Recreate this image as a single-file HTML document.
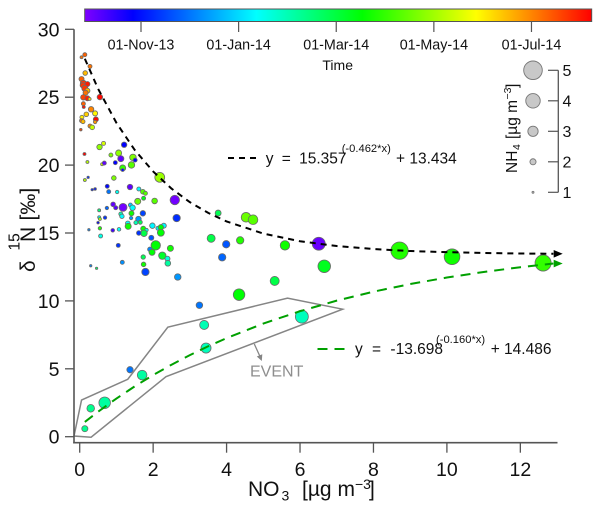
<!DOCTYPE html>
<html lang="en">
<head>
<meta charset="utf-8">
<title>δ15N versus NO3 scatter chart</title>
<style>
html,body{margin:0;padding:0;background:#fff;}
svg{display:block;font-family:"Liberation Sans",sans-serif;}
</style>
</head>
<body>
<svg id="chart" xmlns="http://www.w3.org/2000/svg" width="600" height="509" viewBox="0 0 600 509">
  <defs>
    <linearGradient id="time-gradient" x1="0" x2="1" y1="0" y2="0"></linearGradient>
  </defs>
  <rect width="600" height="509" fill="#fff"/>
  <g id="points"></g>
  <g id="event-layer"></g>
  <g id="fits"></g>
  <g id="axes"></g>
  <g id="colorbar"></g>
  <g id="size-legend"></g>

  <text transform="translate(35,272) rotate(-90)" font-size="21" fill="#111">δ</text>
  <text transform="translate(19.5,250.5) rotate(-90)" font-size="15.5" fill="#111">15</text>
  <text transform="translate(35,242) rotate(-90)" font-size="21" fill="#111">N</text>
  <text transform="translate(35,220.5) rotate(-90)" font-size="21" fill="#111">[‰]</text>

  <g fill="#111">
    <text x="248" y="496" font-size="21">NO</text>
    <text x="281.5" y="500.5" font-size="14">3</text>
    <text x="302" y="496" font-size="21">[µg m</text>
    <text x="355" y="489" font-size="14">−3</text>
    <text x="369" y="496" font-size="21">]</text>
  </g>

  <g fill="#111">
    <line x1="228" y1="158" x2="256" y2="158" stroke="#000" stroke-width="2" stroke-dasharray="6 5"/>
    <text x="265.7" y="163.3" font-size="15.5" word-spacing="4">y = 15.357</text>
    <text x="341.7" y="152" font-size="11.2">(-0.462*x)</text>
    <text x="396" y="163.3" font-size="15.5">+ 13.434</text>
  </g>
  <g fill="#111">
    <line x1="317.5" y1="349" x2="345" y2="349" stroke="#00a000" stroke-width="2" stroke-dasharray="10 7"/>
    <text x="355" y="354" font-size="15.5" word-spacing="5">y = -13.698</text>
    <text x="436" y="343" font-size="11.2">(-0.160*x)</text>
    <text x="490.7" y="354" font-size="15.5">+ 14.486</text>
  </g>

  <text x="337.7" y="70" font-size="14" fill="#111" text-anchor="middle">Time</text>

  <g fill="#111">
    <text transform="translate(517,173) rotate(-90)" font-size="15.5">NH</text>
    <text transform="translate(520,150) rotate(-90)" font-size="10.5">4</text>
    <text transform="translate(517,139) rotate(-90)" font-size="15.5">[µg m</text>
    <text transform="translate(511,99.5) rotate(-90)" font-size="10.5">−3</text>
    <text transform="translate(517,88) rotate(-90)" font-size="15.5">]</text>
  </g>
</svg>

<script>
// Scatter data (parallel arrays)
const no3Values = [0.14,0.05,0.28,0.15,0.05,0.10,0.21,0.08,0.14,0.21,0.16,0.10,0.21,0.27,0.55,0.10,0.11,0.31,0.42,0.18,0.06,0.44,0.05,0.09,0.42,0.28,0.34,0.03,
0.65,0.54,1.21,0.13,0.85,1.06,1.45,1.51,1.12,1.41,0.97,0.21,0.61,0.67,1.17,1.17,2.18,0.23,0.14,0.93,0.75,0.34,0.42,0.79,1.02,1.37,1.61,1.72,1.79,1.74,1.58,2.04,2.59,0.91,0.98,1.18,1.38,1.44,0.74,0.53,1.41,1.72,1.12,1.15,2.64,0.53,0.55,0.69,1.40,1.60,1.53,1.65,0.50,1.31,1.32,1.98,2.29,2.13,2.21,2.21,1.73,1.82,1.75,1.61,0.55,0.25,0.90,1.07,0.57,1.95,1.05,2.07,2.47,1.91,1.97,2.25,2.39,1.73,2.40,1.74,1.16,0.30,0.46,1.79,2.67,
3.77,4.53,4.72,3.58,3.99,4.37,5.59,6.51,3.88,6.66,5.31,4.34,8.71,10.14,12.62,6.05,3.26,3.39,3.44,1.37,1.70,0.68,0.30,0.14];
const d15nValues = [28.13,27.94,27.27,26.78,26.34,26.02,25.97,25.88,25.65,25.48,25.33,24.99,24.92,24.87,25.01,24.52,24.28,24.11,23.81,23.74,23.52,23.37,23.27,23.20,23.17,22.88,22.78,22.61,
21.60,21.33,21.50,20.82,20.74,20.89,20.57,20.37,20.47,20.01,20.18,20.23,20.06,20.15,19.79,19.64,19.10,19.10,18.90,19.05,18.44,18.19,18.24,18.04,18.02,18.39,18.24,18.04,17.92,17.56,17.33,17.36,17.43,17.11,16.86,16.89,17.06,16.86,16.84,16.67,16.45,16.45,16.40,16.23,16.10,16.16,16.03,16.13,16.10,16.03,15.76,15.79,15.76,15.71,15.49,15.54,15.54,15.35,15.42,15.02,15.32,15.22,14.98,15.00,15.35,15.24,15.20,15.27,14.78,14.65,14.09,14.09,13.87,13.80,13.58,13.33,13.11,13.23,12.77,12.69,12.84,12.59,12.40,12.13,11.76,
16.47,16.16,15.98,14.61,14.17,14.46,14.09,14.21,13.21,12.55,11.47,10.46,13.70,13.25,12.79,8.84,9.68,8.23,6.53,4.93,4.54,2.50,2.09,0.59];
const nh4Values = [1.5,1.25,1.5,1.65,1.75,2,1.75,1.75,2,1.75,1.75,1.85,1.75,1.25,1.85,1.5,1.25,1.85,1.75,1.65,1.5,1.75,1.5,1.5,1.35,1.5,1.65,1.15,
1.5,1.85,1.85,1.25,1.5,2,2.1,1.5,2,2.1,1.5,1.25,1.25,1.5,2,1.25,2.9,1.1,1.25,1.65,1.5,1.1,1.15,1.5,1.35,1.85,1.5,1.65,1.5,1.5,2,1.9,2.8,1.65,1.5,2.45,1.5,1.85,1.35,1.25,1.75,1.85,1.5,1.6,2.3,1.25,1.25,1.35,1.35,1.85,1.5,1.5,1.15,1.65,2,1.85,1.75,1.5,1.85,2.2,1.75,1.35,2.1,1.65,1.35,1.1,1.4,1.4,1.5,1.75,1.5,2.8,2,1.6,2,2.3,1.75,1.6,1.9,1.65,1.5,1.1,1.1,2.3,2.1,
1.97,2.85,2.85,2.45,2.3,2.3,2.8,3.65,2.3,3.55,2.7,3.3,4.7,4.3,4.4,3.65,2.1,2.7,2.95,2.05,2.85,3.3,2.35,2];
const timeDays = [250,245,245,225,250,262,270,262,262,225,245,258,268,215,275,250,272,240,208,220,210,275,245,225,235,240,190,258,
195,175,-5,276,170,175,170,-5,-28,160,-5,185,195,-28,150,-2,178,10,185,170,-3,5,0,30,75,-28,70,160,160,130,165,160,-32,-28,-25,-32,55,72,25,105,140,15,90,70,8,75,180,10,40,40,90,115,-5,72,140,68,68,65,135,135,140,75,118,10,145,35,-20,72,78,20,10,135,140,35,135,125,80,115,95,140,38,35,110,15,40,
115,165,160,118,20,145,140,-30,25,128,118,135,145,140,150,88,30,90,88,30,95,95,100,100];

// Colour scale of the time bar
const colorStopDays = [-35,-5,71,136,206,277];
const colorStopRgb = [[127,0,255],[0,0,255],[0,255,255],[0,255,0],[255,255,0],[255,0,0]];

// Fit curves
const fitX = [0.14,0.5,1,1.5,2,2.5,3,3.5,4,5,6,7,8,9,10,11,12,12.9];
const blackFitY = [27.83,25.62,23.11,21.11,19.53,18.27,17.27,16.48,15.85,14.96,14.39,14.04,13.82,13.67,13.59,13.53,13.49,13.47];
const greenFitY = [1.09,1.84,2.81,3.71,4.54,5.30,6.01,6.66,7.26,8.33,9.24,10.02,10.68,11.24,11.72,12.13,12.48,12.75];

// Event envelope
const eventX = [-0.155,0.05,1.31,2.40,5.66,7.16,2.35,0.31];
const eventY = [0.05,2.70,4.23,8.07,10.20,9.39,4.42,-0.04];

// Ticks and labels
const xTicks = [0,2,4,6,8,10,12];
const yTicks = [0,5,10,15,20,25,30];
const timeTickDays = [0,60,120,180,240];
const timeTickLabels = ['01-Nov-13','01-Jan-14','01-Mar-14','01-May-14','01-Jul-14'];
const sizeLegendValues = [1,2,3,4,5];

const NS = 'http://www.w3.org/2000/svg';
const X = v => 79.7 + 36.72 * v;
const Y = v => 436.7 - 13.58 * v;
const T = d => 141 + 1.627 * d;
const R = n => Math.max(0.8, 2.08 * n - 1.1);
const SY = n => 192.3 - 30.5 * (n - 1);

function make(tag, attrs, parent, text) {
  const el = document.createElementNS(NS, tag);
  for (const k in attrs) el.setAttribute(k, attrs[k]);
  if (text !== undefined) el.textContent = text;
  parent.appendChild(el);
  return el;
}
function timeColor(d) {
  let i = 0;
  while (i < colorStopDays.length - 2 && d > colorStopDays[i + 1]) i++;
  const f = Math.min(1, Math.max(0, (d - colorStopDays[i]) / (colorStopDays[i + 1] - colorStopDays[i])));
  const a = colorStopRgb[i], b = colorStopRgb[i + 1];
  return 'rgb(' + a.map((c, k) => Math.round(c + (b[k] - c) * f)).join(',') + ')';
}

// Points
const pointsG = document.getElementById('points');
no3Values.forEach((v, i) => {
  const c = make('circle', {cx: X(v), cy: Y(d15nValues[i]), r: R(nh4Values[i]), fill: timeColor(timeDays[i]), stroke: '#6a6a6a', 'stroke-width': 0.8}, pointsG);
  
  
});

// Event envelope and label
const eventG = document.getElementById('event-layer');
const envelope = make('polygon', {points: eventX.map((v, i) => X(v) + ',' + Y(eventY[i])).join(' '), fill: 'none', stroke: '#858585', 'stroke-width': 1.5}, eventG);


const pointer = make('line', {x1: 254.3, y1: 344, x2: 260, y2: 356.5, stroke: '#858585', 'stroke-width': 1.3}, eventG);


const pointerHead = make('polygon', {points: '261.8,361 256.8,356.5 262.3,354.2', fill: '#858585'}, eventG);


const eventLabel = make('text', {x: 250, y: 376.7, 'font-size': 16, fill: '#8e8e8e'}, eventG, 'EVENT');



// Fit lines
const fitsG = document.getElementById('fits');
function drawFit(values, color, dash, nameLine, nameHead) {
  const line = make('polyline', {points: fitX.map((v, i) => X(v) + ',' + Y(values[i])).join(' '), fill: 'none', stroke: color, 'stroke-width': 2, 'stroke-dasharray': dash}, fitsG);
  
  
  const ex = X(fitX[fitX.length - 1]) + 0.3, ey = Y(values[values.length - 1]);
  const head = make('polygon', {points: ex + ',' + (ey - 3.8) + ' ' + (ex + 9) + ',' + ey + ' ' + ex + ',' + (ey + 3.8), fill: color}, fitsG);
  
  
}
drawFit(blackFitY, '#000', '6 5', 'black-fit-line', 'black-fit-arrow');
drawFit(greenFitY, '#00a000', '10 7', 'green-fit-line', 'green-fit-arrow');

// Axes
const axesG = document.getElementById('axes');
const axisColor = '#555';
const yAxisLine = make('line', {x1: 74, y1: Y(30), x2: 74, y2: 443.5, stroke: axisColor, 'stroke-width': 1.6}, axesG);


const xAxisLine = make('line', {x1: 73.2, y1: 442.7, x2: 557.5, y2: 442.7, stroke: axisColor, 'stroke-width': 1.6}, axesG);


yTicks.forEach(t => {
  const tick = make('line', {x1: 65, y1: Y(t), x2: 74, y2: Y(t), stroke: axisColor, 'stroke-width': 1.3}, axesG);
  
  
  const label = make('text', {x: 59.5, y: Y(t) + 7, 'font-size': 19.5, fill: '#111', 'text-anchor': 'end'}, axesG, String(t));
  
  
});
xTicks.forEach(t => {
  const tick = make('line', {x1: X(t), y1: 442.7, x2: X(t), y2: 452.7, stroke: axisColor, 'stroke-width': 1.3}, axesG);
  
  
  const label = make('text', {x: X(t), y: 476, 'font-size': 19.5, fill: '#111', 'text-anchor': 'middle'}, axesG, String(t));
  
  
});

// Colour bar
const grad = document.getElementById('time-gradient');
const barDays0 = -34.6, barDays1 = 277;
colorStopDays.forEach((d, i) => {
  const s = make('stop', {offset: Math.max(0, Math.min(1, (d - barDays0) / (barDays1 - barDays0))), 'stop-color': 'rgb(' + colorStopRgb[i].join(',') + ')'}, grad);
  
  
});
const barG = document.getElementById('colorbar');
const bar = make('rect', {x: T(barDays0), y: 9, width: T(barDays1) - T(barDays0), height: 12.5, fill: 'url(#time-gradient)', stroke: '#555', 'stroke-width': 1}, barG);


timeTickDays.forEach((d, i) => {
  const tick = make('line', {x1: T(d), y1: 21.5, x2: T(d), y2: 32, stroke: axisColor, 'stroke-width': 1.2}, barG);
  
  
  const label = make('text', {x: T(d), y: 49.3, 'font-size': 14.3, fill: '#111', 'text-anchor': 'middle'}, barG, timeTickLabels[i]);
  
  
});

// Size legend
const sizeG = document.getElementById('size-legend');
const sizeAxis = make('line', {x1: 558.3, y1: SY(5), x2: 558.3, y2: SY(1), stroke: axisColor, 'stroke-width': 1.3}, sizeG);


sizeLegendValues.forEach(n => {
  const circle = make('circle', {cx: 533, cy: SY(n), r: R(n), fill: '#c8c8c8', stroke: '#777', 'stroke-width': 0.9}, sizeG);
  
  
  const tick = make('line', {x1: 548, y1: SY(n), x2: 558.3, y2: SY(n), stroke: axisColor, 'stroke-width': 1.2}, sizeG);
  
  
  const label = make('text', {x: 562.5, y: SY(n) + 5.7, 'font-size': 16, fill: '#111'}, sizeG, String(n));
  
  
});
</script>
</body>
</html>
